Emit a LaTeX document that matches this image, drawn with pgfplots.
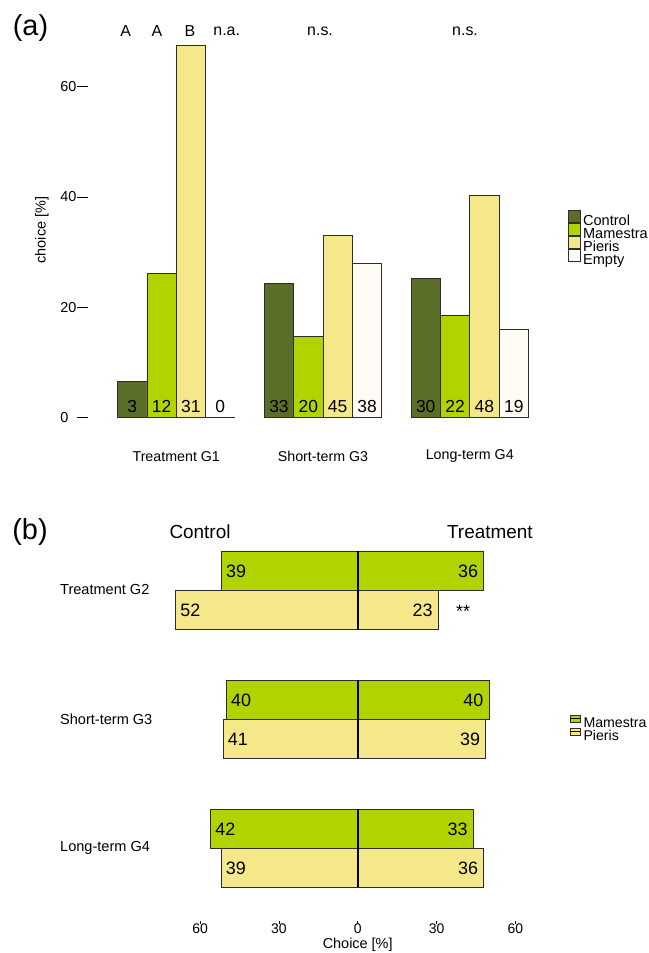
\documentclass[border=0pt]{standalone}
\usepackage{pgfplots}
\pgfplotsset{compat=1.18}
\usepackage{fontspec}
\setmainfont{Liberation Sans}
\definecolor{cctrl}{RGB}{91,110,39}
\definecolor{cmam}{RGB}{177,212,0}
\definecolor{cpie}{RGB}{245,232,139}
\definecolor{cemp}{RGB}{255,252,245}
\definecolor{cedge}{RGB}{45,45,45}
\newcommand{\fs}[1]{\fontsize{#1}{#1}\selectfont}
\begin{document}
\begin{tikzpicture}[x=1bp,y=1bp]
\useasboundingbox (0,0) rectangle (649,953);
\node[font=\fs{29}] at (30.5,925) {(a)};
\node[font=\fs{29}] at (30,421) {(b)};
% ---------------- panel (a)
\begin{axis}[
  at={(88.2bp,535.3bp)}, anchor=south west,
  scale only axis, width=440.25bp, height=375.2bp,
  xmin=0, xmax=15, ymin=0, ymax=68,
  clip=false,
  axis x line=none, axis y line=left,
  y axis line style={draw=none},
  ytick={0,20,40,60},
  tick align=outside, major tick length=11bp,
  ytick style={draw=black, line width=0.8bp},
  yticklabel style={anchor=west, inner sep=0pt, xshift=-17bp, font=\fs{14.5}},
  /pgf/number format/assume math mode=true,
  ylabel={choice [\%]},
  ylabel style={at={(axis description cs:-0.105,0.5)}, anchor=center, font=\fs{14.5}},
  legend cell align=left,
  legend image code/.code={\draw[#1, draw=cedge, line width=0.8bp] (0bp,-0.8bp) rectangle (11.7bp,11.5bp);},
  legend style={at={(1.0905,0.5536)}, anchor=north west, draw=none, fill=none,
    inner sep=0pt, outer sep=0pt, row sep=-5.7bp, column sep=2.3bp, font=\fs{14.6},
    nodes={inner sep=0pt, outer sep=0pt, text height=10.7bp, text depth=2.6bp}},
]
\addplot[ybar, bar width=1, bar shift=0pt, fill=cctrl, draw=cedge, line width=0.8bp]
  coordinates {(1.5,6.52) (6.5,24.26) (11.5,25.21)};
\addlegendentry{Control}
\addplot[ybar, bar width=1, bar shift=0pt, fill=cmam, draw=cedge, line width=0.8bp]
  coordinates {(2.5,26.09) (7.5,14.71) (12.5,18.49)};
\addlegendentry{Mamestra}
\addplot[ybar, bar width=1, bar shift=0pt, fill=cpie, draw=cedge, line width=0.8bp]
  coordinates {(3.5,67.39) (8.5,33.09) (13.5,40.34)};
\addlegendentry{Pieris}
\addplot[ybar, bar width=1, bar shift=0pt, fill=cemp, draw=cedge, line width=0.8bp]
  coordinates {(4.5,0) (9.5,27.94) (14.5,15.97)};
\addlegendentry{Empty}
% counts
\begin{scope}[every node/.style={font=\fs{17.5}}]
\node at (axis cs:1.5,2.1) {3};
\node at (axis cs:2.5,2.1) {12};
\node at (axis cs:3.5,2.1) {31};
\node at (axis cs:4.5,2.1) {0};
\node at (axis cs:6.5,2.1) {33};
\node at (axis cs:7.5,2.1) {20};
\node at (axis cs:8.5,2.1) {45};
\node at (axis cs:9.5,2.1) {38};
\node at (axis cs:11.5,2.1) {30};
\node at (axis cs:12.5,2.1) {22};
\node at (axis cs:13.5,2.1) {48};
\node at (axis cs:14.5,2.1) {19};
\end{scope}
\begin{scope}[every node/.style={font=\fs{16}}]
\node at (axis cs:1.28,70.1) {A};
\node at (axis cs:2.34,70.1) {A};
\node at (axis cs:3.47,70.1) {B};
\node at (axis cs:4.72,70.1) {n.a.};
\node at (axis cs:7.9,70.1) {n.s.};
\node at (axis cs:12.84,70.1) {n.s.};
\end{scope}
\begin{scope}[every node/.style={font=\fs{14.3}}]
\node at (axis cs:3,-7.0) {Treatment G1};
\node at (axis cs:8,-7.0) {Short-term G3};
\node at (axis cs:13,-7.0) {Long-term G4};
\end{scope}
\end{axis}
% ---------------- panel (b)
\begin{axis}[
  at={(160.6bp,32bp)}, anchor=south west,
  scale only axis, width=394.2bp, height=381bp,
  xmin=-75, xmax=75, ymin=-921, ymax=-540,
  clip=false,
  axis x line=bottom, axis y line=none,
  x axis line style={draw=none},
  xtick={-60,-30,0,30,60}, xticklabels={60,30,0,30,60},
  tick align=outside, major tick length=2.5bp,
  xtick style={draw=black, line width=0.6bp},
  xticklabel style={inner sep=0pt, font=\fs{14}, yshift=-0.5bp},
  /pgf/number format/assume math mode=true,
  legend cell align=left,
  legend image code/.code={\draw[#1, draw=cedge, line width=0.8bp] (0bp,1.7bp) rectangle (10bp,9bp);
     \draw[black, line width=0.8bp] (0bp,5.35bp) -- (10bp,5.35bp);},
  legend style={at={(1.0386,0.5415)}, anchor=north west, draw=none, fill=none,
    inner sep=0pt, outer sep=0pt, row sep=-2.5bp, column sep=2.7bp, font=\fs{14.2},
    nodes={inner sep=0pt, outer sep=0pt, text height=9.4bp, text depth=2.6bp}},
]
\addplot[xbar, bar width=39, bar shift=0pt, fill=cmam, draw=cedge, line width=0.8bp]
  coordinates {(-51.95,-570.5) (-50,-700) (-56,-828.8)};
\addlegendentry{Mamestra}
\addplot[xbar, bar width=39, bar shift=0pt, fill=cpie, draw=cedge, line width=0.8bp]
  coordinates {(-69.33,-609.5) (-51.25,-738.8) (-52,-867.8)};
\addlegendentry{Pieris}
\addplot[xbar, bar width=39, bar shift=0pt, fill=cmam, draw=cedge, line width=0.8bp, forget plot]
  coordinates {(48,-570.5) (50,-700) (44,-828.8)};
\addplot[xbar, bar width=39, bar shift=0pt, fill=cpie, draw=cedge, line width=0.8bp, forget plot]
  coordinates {(30.67,-609.5) (48.75,-738.8) (48,-867.8)};
\addplot[black, line width=1.6bp, forget plot] coordinates {(0,-551) (0,-629)};
\addplot[black, line width=1.6bp, forget plot] coordinates {(0,-680.5) (0,-758.3)};
\addplot[black, line width=1.6bp, forget plot] coordinates {(0,-809.3) (0,-887.3)};
\begin{scope}[every node/.style={font=\fs{18}, inner xsep=0pt}]
\node[anchor=west] at (axis cs:-51.95,-571) [xshift=4.7bp] {39};
\node[anchor=west] at (axis cs:-69.33,-610) [xshift=4.7bp] {52};
\node[anchor=west] at (axis cs:-50,-700.5) [xshift=4.7bp] {40};
\node[anchor=west] at (axis cs:-51.25,-739.3) [xshift=4.7bp] {41};
\node[anchor=west] at (axis cs:-56,-829.3) [xshift=4.7bp] {42};
\node[anchor=west] at (axis cs:-52,-868.3) [xshift=4.7bp] {39};
\node[anchor=east] at (axis cs:48,-571) [xshift=-5.5bp] {36};
\node[anchor=east] at (axis cs:30.67,-610) [xshift=-5.5bp] {23};
\node[anchor=east] at (axis cs:50,-700.5) [xshift=-5.5bp] {40};
\node[anchor=east] at (axis cs:48.75,-739.3) [xshift=-5.5bp] {39};
\node[anchor=east] at (axis cs:44,-829.3) [xshift=-5.5bp] {33};
\node[anchor=east] at (axis cs:48,-868.3) [xshift=-5.5bp] {36};
\node at (axis cs:40.1,-611) {**};
\end{scope}
\begin{scope}[every node/.style={font=\fs{14.6}, anchor=west, inner xsep=0pt}]
\node at (axis cs:-75,-590) [xshift=-100.6bp] {Treatment G2};
\node at (axis cs:-75,-719.3) [xshift=-100.6bp] {Short-term G3};
\node at (axis cs:-75,-848.3) [xshift=-100.6bp] {Long-term G4};
\end{scope}
\node[font=\fs{19}] at (axis cs:-60,-531.7) {Control};
\node[font=\fs{19}] at (axis cs:50.3,-531.7) {Treatment};
\node[font=\fs{14.5}, inner ysep=0pt] at (axis cs:0,-944.5) {Choice [\%]};
\end{axis}
\end{tikzpicture}
\end{document}
